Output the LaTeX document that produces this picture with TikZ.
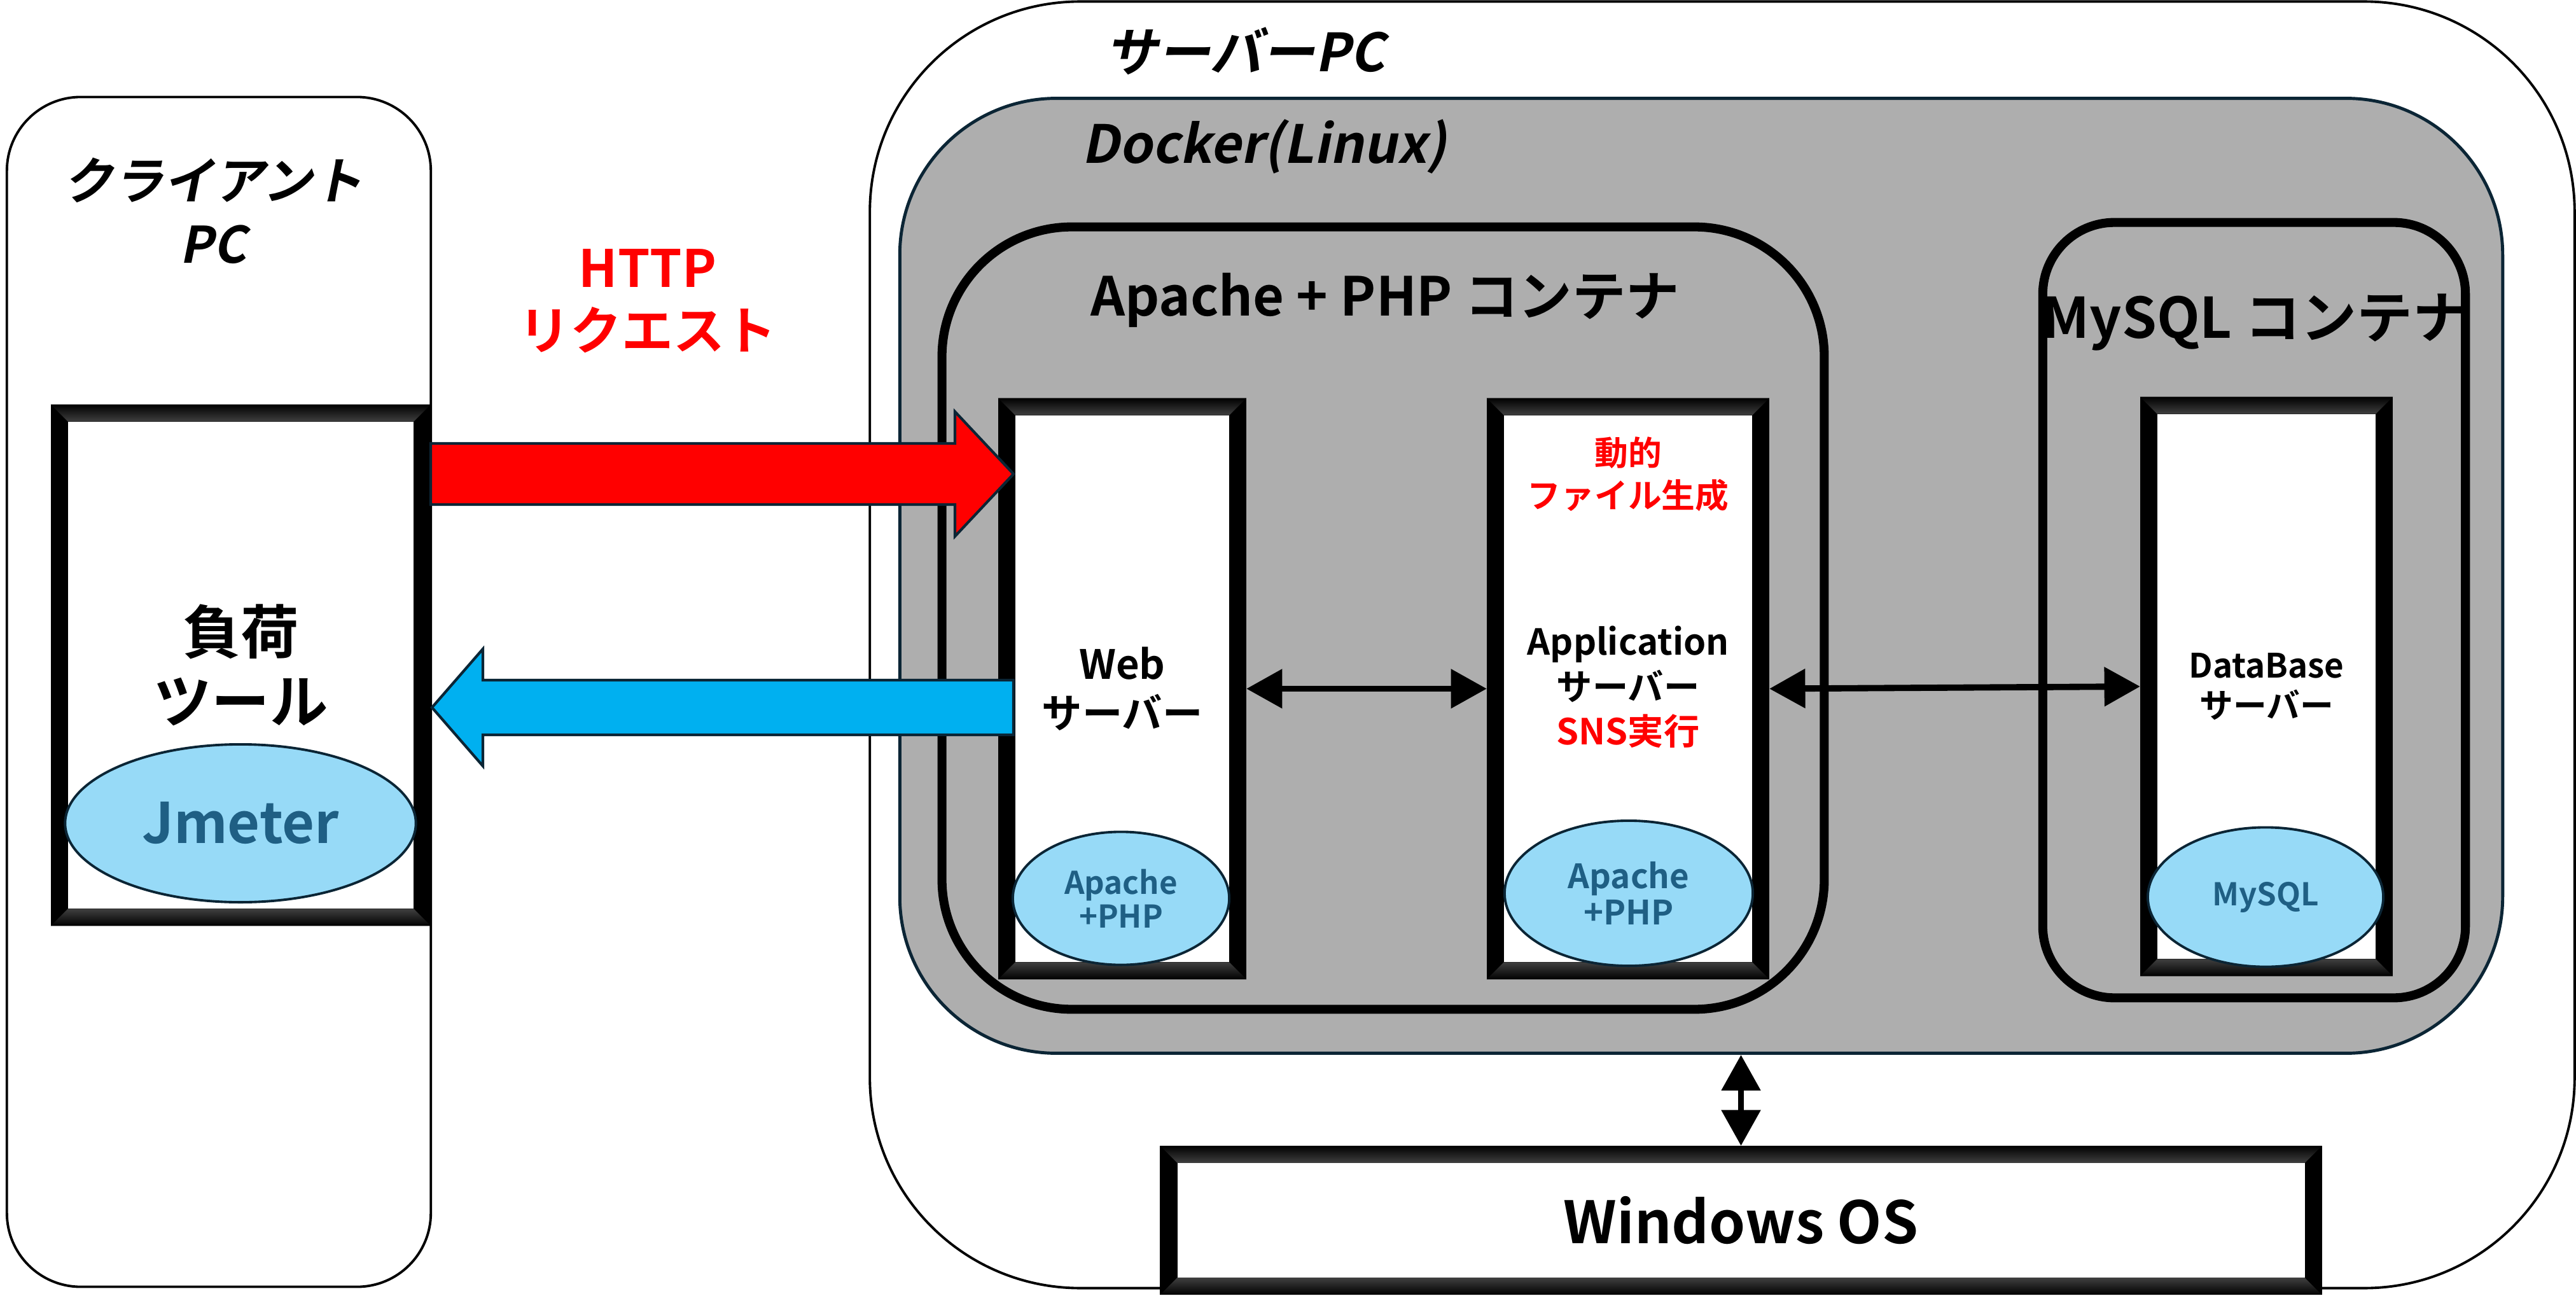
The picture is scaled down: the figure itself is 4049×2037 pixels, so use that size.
\documentclass[tikz,border=0pt]{standalone}
\usepackage{fontspec}
\setmainfont{Noto Sans CJK JP}[BoldFont={Noto Sans CJK JP Bold}]
\newfontfamily\slantjp{Noto Sans CJK JP Bold}[FakeSlant=0.2]
\usetikzlibrary{calc}
\usetikzlibrary{arrows.meta}
\usetikzlibrary{shapes.geometric}
\definecolor{dockerGray}{HTML}{AEAEAE}
\definecolor{edgeNavy}{HTML}{0B2535}
\definecolor{reqRed}{HTML}{FF0000}
\definecolor{resBlue}{HTML}{00B0F0}
\definecolor{swFill}{HTML}{97DAF7}
\definecolor{swText}{HTML}{1F5F84}

\tikzset{
    pcbox/.style={draw=black,line width=1.1pt,fill=white,rounded corners=#1,inner sep=0pt},
    cbox/.style={draw=black,line width=4pt,rounded corners=#1,inner sep=0pt},
    srvframe/.style={draw=black,fill=white,line width=7.7pt,inner sep=0pt,align=center},
    swell/.style={ellipse,draw=edgeNavy,line width=1.1pt,fill=swFill,text=swText,inner sep=0pt,align=center},
    biarrow/.style={line width=2.8pt,{Triangle[length=16pt,width=17pt]}-{Triangle[length=16pt,width=17pt]}},
    blockarrow/.style={draw=edgeNavy,line width=1.2pt,line join=miter}
}

\begin{document}
\begin{tikzpicture}[x=0.01cm,y=-0.01cm]
    \useasboundingbox (0,0) rectangle (4049,2037);

    % PCs
    \node[pcbox=94pt,minimum width=26.78cm,minimum height=20.21cm] (server) at (2707,1013.5) {};
    \node[pcbox=33pt,minimum width=6.66cm,minimum height=18.69cm] (client) at (344,1087.5) {};

    % docker and containers
    \node[draw=edgeNavy,line width=1.4pt,fill=dockerGray,rounded corners=70pt,inner sep=0pt,minimum width=25.18cm,minimum height=15.00cm] (docker) at (2674,905) {};
    \node[cbox=58pt,minimum width=13.86cm,minimum height=12.29cm] (apcont) at (2174,971.5) {};
    \node[cbox=32pt,minimum width=6.64cm,minimum height=12.18cm] (dbcont) at (3543,959) {};

    % servers
    \node[srvframe,minimum width=5.70cm,minimum height=7.92cm,font=\bfseries\fontsize{26}{31}\selectfont] (tool) at (378.5,1045.5) {負荷\\ツール};
    \node[srvframe,minimum width=3.63cm,minimum height=8.86cm,font=\bfseries\fontsize{18}{22}\selectfont] (web) at (1764,1082.5) {Web\\サーバー};
    \node[srvframe,minimum width=4.17cm,minimum height=8.86cm] (app) at (2559,1082.5) {};
    \node[srvframe,minimum width=3.70cm,minimum height=8.83cm,font=\bfseries\fontsize{15}{18}\selectfont] (db) at (3562.5,1079) {DataBase\\サーバー};
    \node[srvframe,minimum width=17.98cm,minimum height=2.07cm,font=\bfseries\fontsize{26}{31}\selectfont] (win) at (2736.5,1918) {Windows OS};

    % bevel of the frames
    \foreach \n in {tool,web,app,db,win}{
        \shade[top color=black,bottom color=black!75!white] (\n.north west) -- (\n.north east) -- ($(\n.north east)+(-27,27)$) -- ($(\n.north west)+(27,27)$) -- cycle;
        \shade[top color=black!75!white,bottom color=black] (\n.south west) -- (\n.south east) -- ($(\n.south east)+(-27,-27)$) -- ($(\n.south west)+(27,-27)$) -- cycle;
    }

    \node[font=\bfseries\fontsize{15}{19}\selectfont,text=reqRed,align=center] (appnote) at (2559,745) {動的\\ファイル生成};
    \node[font=\bfseries\fontsize{16}{20}\selectfont,align=center] (applabel) at (2559,1080) {Application\\サーバー\\\textcolor{reqRed}{SNS実行}};

    % software
    \node[swell,minimum width=5.51cm,minimum height=2.48cm,font=\bfseries\fontsize{25}{30}\selectfont] (jmeter) at (378,1294) {Jmeter};
    \node[swell,minimum width=3.40cm,minimum height=2.09cm,font=\bfseries\fontsize{14}{15}\selectfont] (webapache) at (1762,1412) {Apache\\+PHP};
    \node[swell,minimum width=3.90cm,minimum height=2.28cm,font=\bfseries\fontsize{15}{16}\selectfont] (appapache) at (2560,1404) {Apache\\+PHP};
    \node[swell,minimum width=3.70cm,minimum height=2.19cm,font=\bfseries\fontsize{14}{17}\selectfont] (mysql) at (3561,1410) {MySQL};

    % labels
    \node[font=\slantjp\fontsize{22.5}{28.5}\selectfont,align=center] (clientlabel) at (335,331) {クライアント\\PC};
    \node[font=\slantjp\fontsize{23.5}{28}\selectfont] (serverlabel) at (1957,80) {サーバーPC};
    \node[font=\slantjp\fontsize{23.5}{28}\selectfont] (dockerlabel) at (1987,230) {Docker(Linux)};
    \node[font=\bfseries\fontsize{24}{29}\selectfont] (aplabel) at (2177,472) {Apache + PHP コンテナ};
    \node[font=\bfseries\fontsize{25}{30}\selectfont] (dblabel) at (3545,507) {MySQL コンテナ};
    \node[font=\bfseries\fontsize{23}{28}\selectfont,text=reqRed,align=center] (httplabel) at (1018,473) {HTTP\\リクエスト};

    % connectors
    \draw[biarrow] (web.east) -- (app.west);
    \draw[biarrow] (app.east) -- (db.west);
    \draw[biarrow] (win.north) -- (win.north |- docker.south);

    % request and response
    \coordinate (reqfrom) at (677,745);
    \coordinate (reqto) at (1593,745);
    \draw[blockarrow,fill=reqRed] ($(reqfrom)+(0,-48)$) -- ($(reqto)+(-92,-48)$) -- ($(reqto)+(-92,-98)$) -- (reqto) -- ($(reqto)+(-92,98)$) -- ($(reqto)+(-92,48)$) -- ($(reqfrom)+(0,48)$) -- cycle;
    \coordinate (resfrom) at (1593,1112);
    \coordinate (resto) at (679,1112);
    \draw[blockarrow,fill=resBlue] ($(resfrom)+(0,-43)$) -- ($(resto)+(80,-43)$) -- ($(resto)+(80,-92)$) -- (resto) -- ($(resto)+(80,92)$) -- ($(resto)+(80,43)$) -- ($(resfrom)+(0,43)$) -- cycle;
\end{tikzpicture}
\end{document}
